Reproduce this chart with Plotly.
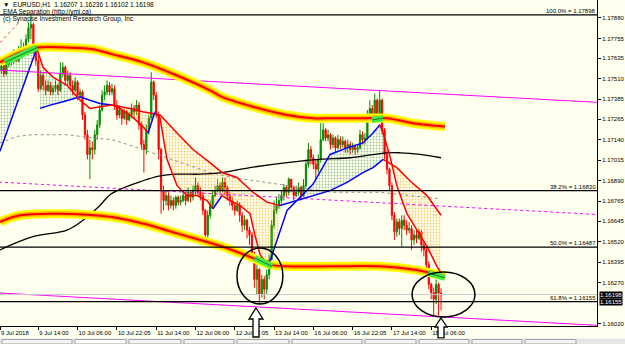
import plotly.graph_objects as go

# ---------------- data (bar index 0 = 9 Jul 2018 00:00, H1) ----------------
first_open = 1.1752
close = [1.1756, 1.1759, 1.1754, 1.1760, 1.1761, 1.1762, 1.1765, 1.1762, 1.1767, 1.1770,
         1.1767, 1.1775, 1.1782, 1.1784, 1.1769, 1.1762, 1.1745, 1.1753, 1.1747, 1.1744,
         1.1747, 1.1743, 1.1745, 1.1747, 1.1744, 1.1754, 1.1758, 1.1750, 1.1753, 1.1747,
         1.1744, 1.1749, 1.1741, 1.1743, 1.1729, 1.1717, 1.1705, 1.1709, 1.1708, 1.1717,
         1.1723, 1.1732, 1.1741, 1.1743, 1.1747, 1.1743, 1.1745, 1.1735, 1.1729, 1.1732,
         1.1727, 1.1731, 1.1726, 1.1729, 1.1733, 1.1731, 1.1735, 1.1723, 1.1711, 1.1708,
         1.1720, 1.1727, 1.1749, 1.1741, 1.1729, 1.1708, 1.1683, 1.1677, 1.1680, 1.1674,
         1.1677, 1.1674, 1.1679, 1.1676, 1.1677, 1.1680, 1.1677, 1.1682, 1.1679, 1.1683,
         1.1686, 1.1682, 1.1680, 1.1671, 1.1656, 1.1668, 1.1674, 1.1680, 1.1683, 1.1686,
         1.1683, 1.1688, 1.1685, 1.1680, 1.1677, 1.1674, 1.1671, 1.1674, 1.1668, 1.1662,
         1.1665, 1.1659, 1.1656, 1.1644, 1.1629, 1.1635, 1.1620, 1.1629, 1.1623, 1.1632,
         1.1641, 1.1662, 1.1671, 1.1674, 1.1677, 1.1680, 1.1685, 1.1682, 1.1690, 1.1685,
         1.1680, 1.1682, 1.1685, 1.1680, 1.1686, 1.1699, 1.1708, 1.1703, 1.1699, 1.1696,
         1.1702, 1.1714, 1.1720, 1.1715, 1.1717, 1.1711, 1.1715, 1.1709, 1.1714, 1.1711,
         1.1713, 1.1709, 1.1711, 1.1708, 1.1710, 1.1708, 1.1709, 1.1717, 1.1714, 1.1715,
         1.1727, 1.1733, 1.1726, 1.1738, 1.1727, 1.1738, 1.1720, 1.1705, 1.1696, 1.1686,
         1.1668, 1.1658, 1.1664, 1.1660, 1.1665, 1.1662, 1.1659, 1.1660, 1.1653, 1.1656,
         1.1654, 1.1658, 1.1650, 1.1647, 1.1638, 1.1626, 1.1621, 1.1617, 1.1626, 1.16207,
         1.16198]
high = [1.1759, 1.1762, 1.1760, 1.1764, 1.1765, 1.1767, 1.1769, 1.1767, 1.1771, 1.1775,
        1.1773, 1.1778, 1.1785, 1.17898, 1.1785, 1.1770, 1.1765, 1.1756, 1.1755, 1.1750,
        1.1750, 1.1749, 1.1747, 1.1750, 1.1748, 1.1761, 1.1761, 1.1759, 1.1756, 1.1755,
        1.1750, 1.1752, 1.1750, 1.1745, 1.1744, 1.1731, 1.1720, 1.1714, 1.1713, 1.1720,
        1.1726, 1.1735, 1.1744, 1.1747, 1.1750, 1.1749, 1.1748, 1.1747, 1.1738, 1.1735,
        1.1733, 1.1733, 1.1732, 1.1731, 1.1736, 1.1735, 1.1738, 1.1737, 1.1725, 1.1714,
        1.1723, 1.1729, 1.1755, 1.1750, 1.1743, 1.1731, 1.1709, 1.1686, 1.1683, 1.1682,
        1.1680, 1.1679, 1.1680, 1.1680, 1.1680, 1.1683, 1.1682, 1.1685, 1.1683, 1.1686,
        1.1691, 1.1688, 1.1685, 1.1682, 1.1672, 1.1671, 1.1677, 1.1683, 1.1686, 1.1690,
        1.1688, 1.1691, 1.1691, 1.1686, 1.1682, 1.1679, 1.1676, 1.1677, 1.1676, 1.1670,
        1.1668, 1.1666, 1.1661, 1.1658, 1.1646, 1.1638, 1.1636, 1.1632, 1.1631, 1.1635,
        1.1644, 1.1665, 1.1677, 1.1679, 1.1681, 1.1683, 1.1687, 1.1686, 1.1691, 1.1690,
        1.1686, 1.1686, 1.1688, 1.1686, 1.1690, 1.1702, 1.1712, 1.1710, 1.1705, 1.1702,
        1.1705, 1.1724, 1.1724, 1.1721, 1.1720, 1.1718, 1.1717, 1.1716, 1.1717, 1.1716,
        1.1716, 1.1714, 1.1714, 1.1713, 1.1712, 1.1711, 1.1711, 1.1720, 1.1719, 1.1718,
        1.1732, 1.1738, 1.1735, 1.1742, 1.1739, 1.1744, 1.1739, 1.1721, 1.1708, 1.1697,
        1.1688, 1.1670, 1.1666, 1.1666, 1.1668, 1.1668, 1.1665, 1.1664, 1.1662, 1.1659,
        1.1659, 1.1660, 1.1659, 1.1652, 1.1649, 1.1640, 1.1627, 1.1624, 1.1629, 1.1627,
        1.16236]
low = [1.1750, 1.1754, 1.1752, 1.1753, 1.1758, 1.1759, 1.1760, 1.1761, 1.1761, 1.1765,
       1.1765, 1.1766, 1.1773, 1.1775, 1.1766, 1.1759, 1.1743, 1.1744, 1.1744, 1.1741,
       1.1743, 1.1741, 1.1741, 1.1743, 1.1741, 1.1743, 1.1752, 1.1747, 1.1747, 1.1744,
       1.1741, 1.1743, 1.1738, 1.1739, 1.1726, 1.1714, 1.1702, 1.1690, 1.1702, 1.1705,
       1.1714, 1.1721, 1.1731, 1.1738, 1.1741, 1.1741, 1.1741, 1.1732, 1.1726, 1.1727,
       1.1723, 1.1726, 1.1723, 1.1725, 1.1727, 1.1727, 1.1729, 1.1720, 1.1708, 1.1694,
       1.1705, 1.1717, 1.1726, 1.1738, 1.1727, 1.1702, 1.1669, 1.1671, 1.1674, 1.1671,
       1.1672, 1.1671, 1.1672, 1.1674, 1.1674, 1.1676, 1.1674, 1.1676, 1.1676, 1.1677,
       1.1680, 1.1680, 1.1677, 1.1668, 1.1653, 1.1654, 1.1666, 1.1672, 1.1679, 1.1682,
       1.1680, 1.1682, 1.1680, 1.1677, 1.1674, 1.1671, 1.1668, 1.1670, 1.1664, 1.1658,
       1.1659, 1.1654, 1.1650, 1.1640, 1.1624, 1.1620, 1.1614, 1.1618, 1.1617, 1.1620,
       1.1629, 1.1640, 1.1660, 1.1669, 1.1672, 1.1675, 1.1677, 1.1679, 1.1680, 1.1682,
       1.1677, 1.1679, 1.1680, 1.1677, 1.1679, 1.1685, 1.1697, 1.1699, 1.1696, 1.1690,
       1.1694, 1.1700, 1.1713, 1.1713, 1.1713, 1.1708, 1.1709, 1.1706, 1.1708, 1.1708,
       1.1709, 1.1706, 1.1706, 1.1705, 1.1706, 1.1705, 1.1706, 1.1708, 1.1711, 1.1711,
       1.1714, 1.1725, 1.1724, 1.1725, 1.1725, 1.1726, 1.1717, 1.1702, 1.1693, 1.1683,
       1.1665, 1.1653, 1.1655, 1.1656, 1.1649, 1.1659, 1.1656, 1.1657, 1.1647, 1.1650,
       1.1651, 1.1653, 1.1646, 1.1643, 1.1635, 1.1623, 1.1617, 1.1607, 1.1614, 1.1607,
       1.16102]
bars = list(range(len(close)))
opens = [first_open] + close[:-1]

x_tick_bars = [0.45, 16, 32, 48, 64, 80, 96, 112, 128, 144, 160, 176]
x_tick_labels = ["9 Jul 2018", "9 Jul 14:00", "10 Jul 06:00", "10 Jul 22:05", "11 Jul 14:00",
                 "12 Jul 06:00", "12 Jul 22:05", "13 Jul 14:00", "16 Jul 06:00",
                 "16 Jul 22:05", "17 Jul 14:00", "18 Jul 06:00"]
y_ticks = [1.17880, 1.17755, 1.17635, 1.17510, 1.17385, 1.17265, 1.17140, 1.17015,
           1.16890, 1.16765, 1.16645, 1.16520, 1.16395, 1.16270, 1.16020]
y_range = [1.16007, 1.17989]
x_range = [0.41, 243.5]

fib_levels = [1.17898, 1.16830, 1.16487, 1.16155]
fib_names = ["100.0%", "38.2%", "50.0%", "61.8%"]
bid_price = 1.16198

# EMA separation lines: (colour, [(bar, price), ...])
fast_segments = [
    ("blue", [(0.4, 1.1707), (4.5, 1.1724), (8.6, 1.1742), (12.6, 1.1758), (15.5, 1.1770)]),
    ("red", [(15.5, 1.1769), (17.9, 1.1758), (22, 1.1752), (27.7, 1.1747), (33, 1.1738),
             (37, 1.1733), (41.1, 1.1734), (46, 1.1735), (48, 1.1734), (53.3, 1.1729),
             (58.6, 1.1722), (60.7, 1.1718)]),
    ("blue", [(60.7, 1.1718), (63.5, 1.1731)]),
    ("red", [(63.5, 1.1731), (65.6, 1.1727), (68.4, 1.1702), (72.5, 1.1686), (76.5, 1.1680),
             (80.6, 1.1680), (84.7, 1.1677), (87.1, 1.1672)]),
    ("blue", [(87.1, 1.1672), (90.8, 1.1680)]),
    ("red", [(90.8, 1.1680), (94, 1.1677), (98.1, 1.1674), (102.2, 1.1669), (104.2, 1.1656),
             (106.3, 1.1644), (108.3, 1.1640), (110.3, 1.1640)]),
    ("blue", [(110.3, 1.1640), (114.4, 1.1658), (117.3, 1.1671), (121.3, 1.1677),
              (127.9, 1.1687), (134.8, 1.1705), (141.7, 1.1709), (148.2, 1.1712),
              (152.3, 1.1718), (155.1, 1.1723)]),
    ("red", [(155.1, 1.1723), (156.4, 1.1718), (159.2, 1.1704), (162, 1.1686),
             (166.1, 1.1669), (170.2, 1.1659), (174.3, 1.1649), (178.3, 1.1637), (180, 1.1633)]),
]
slow_segments = [
    ("blue", [(16.7, 1.1733), (20.8, 1.1735), (26.1, 1.1737), (33, 1.1740), (37, 1.1738),
              (41.1, 1.1736), (46, 1.1735)]),
    ("red", [(46, 1.1735), (53.3, 1.1733), (58.6, 1.1731), (65.6, 1.1729), (72.5, 1.1718),
             (79, 1.1708), (85.9, 1.1700), (90.8, 1.1694), (96.9, 1.1691), (103.4, 1.1682),
             (109.1, 1.1676), (114.4, 1.1674)]),
    ("blue", [(114.4, 1.1674), (121.3, 1.1677), (127.9, 1.1680), (134.8, 1.1683),
              (141.7, 1.1688), (148.2, 1.1694), (152.3, 1.1697), (156.4, 1.1702)]),
    ("red", [(156.4, 1.1702), (162, 1.1697), (167.3, 1.1689), (174.3, 1.1680), (180, 1.1668)]),
]
fill_zones = [
    ("green", [(0.4, 1.1758), (4.5, 1.1760), (8.6, 1.1764), (12.6, 1.1767), (15.5, 1.1770),
               (12.6, 1.1758), (8.6, 1.1742), (4.5, 1.1724), (0.4, 1.1707)]),
    ("green", [(16.7, 1.1761), (17.9, 1.1758), (22, 1.1752), (27.7, 1.1747), (33, 1.1739),
               (26.1, 1.1737), (20.8, 1.1735), (16.7, 1.1733)]),
    ("orange", [(46, 1.1735), (53.3, 1.1733), (58.6, 1.1731), (65.6, 1.1729), (72.5, 1.1718),
                (79, 1.1708), (85.9, 1.1700), (90.8, 1.1694), (96.9, 1.1691), (103.4, 1.1682),
                (109.1, 1.1676), (114.4, 1.1674), (114.4, 1.1659), (110.3, 1.1640),
                (108.3, 1.1640), (106.3, 1.1644), (104.2, 1.1656), (102.2, 1.1669),
                (98.1, 1.1674), (94, 1.1677), (90.8, 1.1680), (87.1, 1.1672), (84.7, 1.1677),
                (80.6, 1.1680), (76.5, 1.1680), (72.5, 1.1686), (68.4, 1.1702), (65.6, 1.1727),
                (63.5, 1.1731), (60.7, 1.1718), (58.6, 1.1722), (53.3, 1.1729), (48, 1.1734)]),
    ("green", [(121.3, 1.1677), (127.9, 1.1687), (134.8, 1.1705), (141.7, 1.1709),
               (148.2, 1.1712), (152.3, 1.1718), (155.1, 1.1723), (156.4, 1.1718),
               (156.4, 1.1702), (152.3, 1.1697), (148.2, 1.1694), (141.7, 1.1688),
               (134.8, 1.1683), (127.9, 1.1680)]),
    ("orange", [(159.5, 1.1700), (162, 1.1697), (167.3, 1.1689), (174.3, 1.1680), (180, 1.1668),
                (180, 1.1633), (178.3, 1.1637), (174.3, 1.1649), (170.2, 1.1659),
                (166.1, 1.1669), (162, 1.1686)]),
]
long_ma = [(0.4, 1.1647), (13.8, 1.1655), (27.7, 1.1659), (34.2, 1.1665), (41.1, 1.1674),
           (45.6, 1.1681), (58.6, 1.1689), (65.6, 1.1692), (72.5, 1.1693), (81.8, 1.1693),
           (90.8, 1.1694), (102.2, 1.1697), (117.3, 1.1700), (130.7, 1.1702), (142.9, 1.1703),
           (158, 1.1706), (163.3, 1.1706), (171.4, 1.1705), (180, 1.1703)]
mid_ma = [(0.4, 1.1712), (7.3, 1.1716), (13.8, 1.1717), (27.7, 1.1717), (38.3, 1.1715),
          (46, 1.1714), (54.6, 1.1710), (68.4, 1.1703), (85.9, 1.1694), (95.3, 1.1691),
          (117.3, 1.1686), (135.6, 1.1682), (155.1, 1.1682), (180, 1.1678)]
red_dotted = [(0.4, 1.1773), (8.6, 1.1786)]

upper_band = [(0.4, 1.1761), (8.6, 1.1767), (15.5, 1.1770), (27.7, 1.1770), (38.3, 1.1769),
              (46, 1.1766), (58.6, 1.1761), (72.5, 1.1753), (85.9, 1.1744), (90.8, 1.1740),
              (103.4, 1.1734), (117.3, 1.1729), (127.9, 1.1727), (135.6, 1.1727),
              (148.2, 1.1727), (158, 1.1727), (168.6, 1.1724), (181.6, 1.1722)]
lower_band = [(0.4, 1.1664), (8.6, 1.1668), (23.6, 1.1669), (46, 1.1667), (58.6, 1.1663),
              (72.5, 1.1657), (90.8, 1.1649), (103.4, 1.1642), (110.3, 1.1638),
              (117.3, 1.1637), (135.6, 1.1637), (155.1, 1.1637), (168.6, 1.1635),
              (181.6, 1.1631)]
touch_marks = [[(2.4, 1.1761), (15.5, 1.1770)], [(104.2, 1.1642), (111.2, 1.1637)],
               [(151.9, 1.1726), (156.4, 1.1727)], [(174.7, 1.1633), (181.6, 1.1630)]]

channel = [((0, 1.17563), (243.5, 1.17367), 'solid'),
           ((0, 1.16882), (243.5, 1.16685), 'dot'),
           ((0, 1.16208), (243.5, 1.16011), 'solid')]

circles = [(96.9, 115.6, 1.16141, 1.16481), (168.2, 193.8, 1.16062, 1.16335)]
arrow_px = [(256, 308, 319, 337, 7.0), (441, 318, 327, 338, 6.0)]

# ---------------- figure ----------------
BG = '#FFFFEE'
COL = {"blue": "#0000FF", "red": "#FF0000", "green": "#3C8C3C", "orange": "#F0A000"}
fig = go.Figure()


def xs(pts):
    return [p[0] for p in pts]


def ys(pts):
    return [p[1] for p in pts]


for c, pts in fill_zones:
    fig.add_trace(go.Scatter(x=xs(pts), y=ys(pts), mode='lines', fill='toself',
                             fillcolor='rgba(0,0,0,0)',
                             fillpattern=dict(shape='.', fgcolor=COL[c], bgcolor='rgba(0,0,0,0)',
                                              size=3, solidity=0.3),
                             line=dict(width=0), hoverinfo='skip'))

for (a, b, dash) in channel:
    fig.add_trace(go.Scatter(x=[a[0], b[0]], y=[a[1], b[1]], mode='lines',
                             line=dict(color='#FF00FF', width=1, dash=dash), hoverinfo='skip'))

fig.add_trace(go.Scatter(x=[0, 243.5], y=[bid_price, bid_price], mode='lines',
                         line=dict(color='#C8C8C8', width=1), hoverinfo='skip'))

fig.add_trace(go.Scatter(x=xs(mid_ma), y=ys(mid_ma), mode='lines',
                         line=dict(color='#909090', width=1, dash='dot'), hoverinfo='skip'))
fig.add_trace(go.Scatter(x=xs(red_dotted), y=ys(red_dotted), mode='lines',
                         line=dict(color='#FF4040', width=1, dash='dot'), hoverinfo='skip'))
fig.add_trace(go.Scatter(x=xs(long_ma), y=ys(long_ma), mode='lines',
                         line=dict(color='#000000', width=1.3, shape='spline'), hoverinfo='skip'))

for band in (upper_band, lower_band):
    for col, w in (('#FFFF00', 9), ('#FFB400', 5), ('#FF0000', 2)):
        fig.add_trace(go.Scatter(x=xs(band), y=ys(band), mode='lines',
                                 line=dict(color=col, width=w, shape='spline'), hoverinfo='skip'))

fig.add_trace(go.Candlestick(x=bars, open=opens, high=high, low=low, close=close,
                             increasing=dict(line=dict(color='#008C00', width=1), fillcolor='#008C00'),
                             decreasing=dict(line=dict(color='#FF0000', width=1), fillcolor='#FF0000'),
                             whiskerwidth=0, hoverinfo='skip'))

for segs in (slow_segments, fast_segments):
    for c, pts in segs:
        fig.add_trace(go.Scatter(x=xs(pts), y=ys(pts), mode='lines',
                                 line=dict(color=COL[c], width=1.5), hoverinfo='skip'))

for pts in touch_marks:
    fig.add_trace(go.Scatter(x=xs(pts), y=ys(pts), mode='lines',
                             line=dict(color='#40F040', width=6), hoverinfo='skip'))
    fig.add_trace(go.Scatter(x=xs(pts), y=ys(pts), mode='lines',
                             line=dict(color='#2F6F2F', width=1), hoverinfo='skip'))

shapes = []
for lv in fib_levels:
    shapes.append(dict(type='line', xref='paper', x0=0, x1=1, yref='y', y0=lv, y1=lv,
                       line=dict(color='black', width=1.3)))
for (x0, x1, y0, y1) in circles:
    shapes.append(dict(type='circle', xref='x', yref='y', x0=x0, x1=x1, y0=y0, y1=y1,
                       line=dict(color='black', width=1.5)))

PW, PH = 597.0, 326.0


def P(px, py):
    return f"{px / PW:.5f},{(PH - py) / PH:.5f}"


for (cx, tip, base, bot, hw) in arrow_px:
    sw = 3
    path = ("M " + P(cx, tip) + " L " + P(cx + hw, base) + " L " + P(cx + sw, base) +
            " L " + P(cx + sw, bot) + " L " + P(cx - sw, bot) + " L " + P(cx - sw, base) +
            " L " + P(cx - hw, base) + " Z")
    shapes.append(dict(type='path', xref='paper', yref='paper', path=path,
                       fillcolor='white', line=dict(color='black', width=1.3), layer='above'))

# bottom tab strip
shapes.append(dict(type='rect', xref='paper', yref='paper', x0=0, x1=625 / PW,
                   y0=(PH - 344) / PH, y1=(PH - 338.5) / PH, fillcolor='#E6E6E6',
                   line=dict(width=0), layer='above'))
tab_edges = [0, 73, 127, 182, 235, 290, 363, 417, 470, 523, 577]
for i in range(len(tab_edges) - 1):
    shapes.append(dict(type='rect', xref='paper', yref='paper',
                       x0=(tab_edges[i] + 2) / PW, x1=(tab_edges[i + 1] - 1) / PW,
                       y0=(PH - 344) / PH, y1=(PH - 339.5) / PH,
                       fillcolor='white' if i == 1 else '#F4F4F4',
                       line=dict(color='#A0A0A0', width=1), layer='above'))

FONT = 'Liberation Sans'
ann = []
for lv, nm in zip(fib_levels, fib_names):
    ann.append(dict(xref='paper', x=1, xanchor='right', yref='y', y=lv, yanchor='bottom',
                    text=f"{nm} = {lv:.5f}", showarrow=False, borderpad=0,
                    font=dict(family=FONT, size=6, color='black')))
ann.append(dict(xref='paper', x=1, xanchor='left', xshift=2, yref='y', y=fib_levels[3],
                text=f"{fib_levels[3]:.5f}", showarrow=False, bgcolor='black', borderpad=0,
                font=dict(family=FONT, size=6, color='white')))
ann.append(dict(xref='paper', x=1, xanchor='left', xshift=2, yref='y', y=bid_price,
                text=f"{bid_price:.5f}", showarrow=False, bgcolor='black', borderpad=0,
                font=dict(family=FONT, size=6, color='white')))
header = ["\u25bc  EURUSD,H1  1.16207 1.16236 1.16102 1.16198",
          "EMA Separation (http://ymi.ca)",
          "(c) Synapse Investment Research Group, Inc."]
for i, t in enumerate(header):
    ann.append(dict(xref='paper', x=2 / PW, xanchor='left', yref='paper',
                    y=(PH - (4.5 + i * 7.5)) / PH, yanchor='middle', text=t, showarrow=False,
                    borderpad=0, font=dict(family=FONT, size=6.5, color='black')))

fig.update_layout(
    width=625, height=344, margin=dict(l=0, r=28, t=0, b=18),
    paper_bgcolor=BG, plot_bgcolor=BG, showlegend=False,
    shapes=shapes, annotations=ann,
    xaxis=dict(range=x_range, showgrid=False, zeroline=False, rangeslider=dict(visible=False),
               showline=True, linecolor='black', linewidth=1, ticks='outside', ticklen=3,
               tickcolor='black', tickvals=x_tick_bars, ticktext=x_tick_labels,
               ticklabelposition='outside right', tickangle=0, ticklabelstandoff=1,
               tickfont=dict(family=FONT, size=6, color='black')),
    yaxis=dict(range=y_range, side='right', showgrid=False, zeroline=False, showline=True,
               linecolor='black', linewidth=1, ticks='outside', ticklen=3, tickcolor='black',
               tickvals=y_ticks, ticktext=[f"{v:.5f}" for v in y_ticks],
               tickfont=dict(family=FONT, size=6, color='black')),
)
fig.write_html("out.html")
